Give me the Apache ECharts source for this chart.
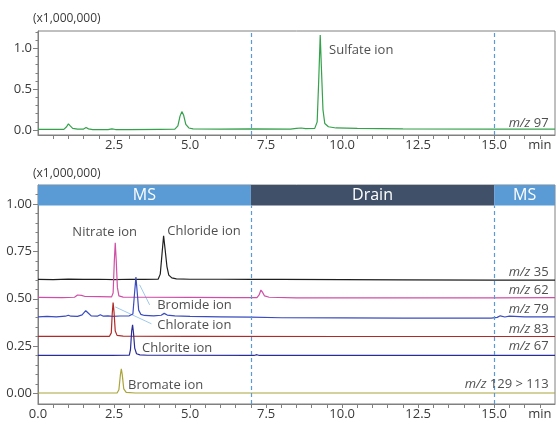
<!DOCTYPE html>
<html><head><meta charset="utf-8">
<script src="https://cdn.jsdelivr.net/npm/echarts@6/dist/echarts.min.js"></script>
<style>html,body{margin:0;padding:0;background:#fff}#c{width:557px;height:421px}</style>
</head><body><div id="c"></div><script>
// ---------- DATA ----------
// time (min), intensity (x1,000,000)
const mz97 = [[0,0.008],[0.85,0.008],[0.94,0.04],[1.0,0.075],[1.06,0.05],[1.14,0.02],[1.3,0.01],[1.5,0.012],[1.58,0.03],[1.66,0.014],[1.8,0.005],[2.3,0.005],[2.43,0.015],[2.55,0.006],[3.0,0.005],[4.0,0.008],[4.5,0.01],[4.6,0.05],[4.67,0.17],[4.73,0.225],[4.79,0.18],[4.86,0.07],[4.96,0.025],[5.1,0.014],[6.0,0.012],[7.0,0.014],[8.3,0.012],[8.5,0.02],[8.65,0.025],[8.8,0.016],[9.1,0.02],[9.18,0.1],[9.23,0.6],[9.28,1.163],[9.32,0.75],[9.37,0.25],[9.43,0.08],[9.55,0.04],[9.8,0.025],[10.5,0.02],[12,0.015],[15,0.012],[17,0.012]];
const mz35 = [[0,0.602],[0.5,0.601],[1.0,0.604],[1.5,0.602],[2.0,0.603],[2.5,0.601],[3.0,0.603],[3.5,0.602],[3.95,0.603],[4.02,0.63],[4.08,0.74],[4.13,0.832],[4.18,0.76],[4.24,0.67],[4.3,0.625],[4.4,0.61],[4.55,0.605],[5,0.603],[6,0.603],[7,0.602],[8,0.602],[10,0.601],[12,0.6],[15,0.598],[17,0.598]];
const mz62 = [[0,0.507],[0.8,0.506],[1.2,0.508],[1.3,0.52],[1.36,0.53],[1.43,0.518],[1.55,0.512],[2.0,0.511],[2.42,0.51],[2.47,0.53],[2.51,0.7],[2.54,0.795],[2.57,0.71],[2.61,0.56],[2.66,0.515],[2.8,0.509],[3.5,0.508],[5,0.507],[6.5,0.506],[7.2,0.506],[7.27,0.52],[7.33,0.546],[7.38,0.535],[7.45,0.515],[7.6,0.508],[8.5,0.505],[10,0.505],[13,0.505],[15,0.505],[17,0.506]];
const mz79 = [[0,0.405],[0.3,0.407],[0.6,0.405],[0.9,0.408],[1.0,0.413],[1.08,0.408],[1.3,0.407],[1.45,0.415],[1.57,0.437],[1.65,0.425],[1.75,0.41],[1.95,0.408],[2.05,0.416],[2.15,0.408],[2.3,0.41],[2.45,0.407],[2.7,0.409],[3.0,0.41],[3.12,0.42],[3.17,0.52],[3.22,0.614],[3.26,0.54],[3.31,0.44],[3.38,0.418],[3.5,0.412],[3.8,0.41],[4.05,0.413],[4.15,0.423],[4.25,0.414],[4.5,0.41],[5,0.407],[6,0.405],[7,0.403],[8,0.4],[10,0.399],[12,0.398],[14.9,0.398],[15.1,0.402],[15.2,0.41],[15.35,0.404],[15.5,0.408],[16,0.405],[17,0.405]];
const mz83 = [[0,0.302],[2.35,0.302],[2.41,0.32],[2.44,0.42],[2.47,0.48],[2.5,0.43],[2.54,0.33],[2.6,0.307],[2.8,0.303],[5,0.302],[10,0.301],[17,0.301]];
const mz67 = [[0,0.201],[2.42,0.201],[2.45,0.206],[2.48,0.201],[3.0,0.202],[3.04,0.23],[3.08,0.33],[3.11,0.363],[3.14,0.32],[3.18,0.24],[3.24,0.21],[3.35,0.204],[3.6,0.202],[7.1,0.201],[7.2,0.205],[7.28,0.201],[10,0.201],[17,0.201]];
const mz129 = [[0,0.003],[2.6,0.003],[2.66,0.02],[2.71,0.1],[2.74,0.13],[2.77,0.1],[2.82,0.025],[2.9,0.006],[3.2,0.003],[17,0.003]];

const traceNames = ['97','35','62','79','83','67','129 > 113'];
const peakNames = ['Sulfate ion','Nitrate ion','Chloride ion','Bromide ion','Chlorate ion','Chlorite ion','Bromate ion'];
const segNames = ['MS','Drain','MS'];
const segBounds = [[0,7],[7,15],[15,17]];
const switchTimes = [7,15];

const xLabelsTop = [2.5,5,7.5,10,12.5,15];
const xLabelsBottom = [0,2.5,5,7.5,10,12.5,15];
const xUnit = 'min';
const xTicks = [0.5,1,1.5,2,2.5,3,3.5,4,4.5,5,5.5,6,6.5,7,7.5,8,8.5,9,9.5,10,10.5,11,11.5,12,12.5,13,13.5,14,14.5,15,15.5,16,16.5];
const yLabelsTop = [0,0.5,1.0];
const yMinorTop = [0.1,0.2,0.3,0.4,0.6,0.7,0.8,0.9,1.1,1.2];
const yLabelsBottom = [0,0.25,0.5,0.75,1.0];
const yMinorBottom = [0.05,0.1,0.15,0.2,0.3,0.35,0.4,0.45,0.55,0.6,0.65,0.7,0.8,0.85,0.9,0.95,1.05];
const scaleText = '(x1,000,000)';

// ---------- LAYOUT / STYLE ----------
const FONT = '"Open Sans", sans-serif';
const AX = '#808080', TXT = '#3a3a3a';
const unitPos = 16.5;
const X = {min:0, max:17};
const topY = {min:-0.061, max:1.212};
const botY = {min:-0.055, max:1.10};
const bandLow = 0.992;
const colors = {'97':'#34a14b','35':'#1e1e1e','62':'#cf4fa6','79':'#3a4cc0','83':'#b02a2a','67':'#2a2d97','129 > 113':'#a9a53a'};
const peakPos = {'Sulfate ion':[9.57,0.979,0],'Nitrate ion':[1.13,0.849,1],'Chloride ion':[4.25,0.858,1],'Bromide ion':[3.92,0.463,1],'Chlorate ion':[3.92,0.358,1],'Chlorite ion':[3.42,0.237,1],'Bromate ion':[2.96,0.042,1]};
const tracePos = {'97':[0.086,0],'35':[0.638,1],'62':[0.544,1],'79':[0.442,1],'83':[0.337,1],'67':[0.247,1],'129 > 113':[0.047,1]};
const leaders = [[[3.34,0.574],[3.67,0.468]],[[2.54,0.457],[3.73,0.368]]];
const segColors = ['#5b9bd5','#3f5068','#5b9bd5'];
const traceData = {'97':mz97,'35':mz35,'62':mz62,'79':mz79,'83':mz83,'67':mz67,'129 > 113':mz129};

const grids = [
  {left:38, right:2, top:31, height:104, show:true, borderColor:AX, borderWidth:1},
  {left:38, right:2, top:185, bottom:16.5, show:true, borderColor:AX, borderWidth:1}
];
function xAxis(gi, labels){
  return {type:'value', gridIndex:gi, min:X.min, max:X.max, splitLine:{show:false},
    axisLine:{show:true, onZero:false, lineStyle:{color:AX}},
    axisTick:{show:true, customValues:xTicks, length:4, inside:false, lineStyle:{color:AX}},
    axisLabel:{show:true, customValues:labels.concat([unitPos]), margin:4, color:TXT, fontSize:13, fontFamily:FONT,
      formatter:v=> Math.abs(v-unitPos)<1e-6 ? xUnit : v.toFixed(1)}};
}
function yMain(gi, r, labels, dec){
  return {type:'value', gridIndex:gi, min:r.min, max:r.max, splitLine:{show:false},
    axisLine:{show:true, onZero:false, lineStyle:{color:AX}},
    axisTick:{show:true, customValues:labels, length:5, lineStyle:{color:AX}},
    axisLabel:{show:true, customValues:labels, margin:6, color:TXT, fontSize:13, fontFamily:FONT, formatter:v=>v.toFixed(dec)}};
}
function yMinor(gi, r, ticks){
  return {type:'value', gridIndex:gi, min:r.min, max:r.max, position:'left', splitLine:{show:false},
    axisLine:{show:false}, axisLabel:{show:false},
    axisTick:{show:true, customValues:ticks, length:2.5, lineStyle:{color:AX}}};
}

const series = [];
traceNames.forEach(n=>{
  const g = tracePos[n][1];
  const s = {type:'line', name:n, xAxisIndex:g, yAxisIndex:g?2:0, data:traceData[n], symbol:'none',
    lineStyle:{color:colors[n], width:1.2}, silent:true, z:3};
  series.push(s);
});
// dashed switch lines
series[0].markLine = {silent:true, symbol:'none', label:{show:false},
  lineStyle:{color:'#5b9bd5', type:[4,3], width:1.2},
  data: switchTimes.map(t=>({xAxis:t}))};
series[6].markLine = {silent:true, symbol:'none', label:{show:false},
  lineStyle:{color:'#5b9bd5', type:[4,3], width:1.2},
  data: switchTimes.map(t=>[{coord:[t,botY.min]},{coord:[t,bandLow]}])};
// band
series[1].markArea = {silent:true,
  data: segNames.map((nm,i)=>[{name:nm, xAxis:segBounds[i][0], yAxis:bandLow, itemStyle:{color:segColors[i], opacity:1},
     label:{show:true, position:'inside', color:'#fff', fontSize:16, fontFamily:FONT}}, {xAxis:segBounds[i][1], yAxis:botY.max}])};
// leader lines
leaders.forEach(seg=>{
  series.push({type:'line', xAxisIndex:1, yAxisIndex:2, data:seg, symbol:'none', silent:true,
    lineStyle:{color:'#9ec9ee', width:1}, z:2});
});
// peak annotations
[0,1].forEach(g=>{
  series.push({type:'scatter', xAxisIndex:g, yAxisIndex:g?2:0, symbolSize:0, silent:true, z:5,
    data: peakNames.filter(p=>peakPos[p][2]===g).map(p=>({name:p, value:[peakPos[p][0],peakPos[p][1]]})),
    label:{show:true, position:'right', distance:0, formatter:'{b}', color:'#222', fontSize:13, fontFamily:FONT}});
  series.push({type:'scatter', xAxisIndex:g, yAxisIndex:g?2:0, symbolSize:0, silent:true, z:5,
    data: traceNames.filter(n=>tracePos[n][1]===g).map(n=>({name:n, value:[16.79,tracePos[n][0]]})),
    label:{show:true, position:'left', distance:0, formatter:'{i|m/z} {b}', color:'#222', fontSize:13, fontFamily:FONT,
      rich:{i:{fontStyle:'italic', color:'#222', fontSize:13, fontFamily:FONT}}}});
});

const chart = echarts.init(document.getElementById('c'), null, {renderer:'canvas'});
chart.setOption({
  animation:false,
  grid:grids,
  xAxis:[xAxis(0,xLabelsTop), xAxis(1,xLabelsBottom)],
  yAxis:[yMain(0,topY,yLabelsTop,1), yMinor(0,topY,yMinorTop), yMain(1,botY,yLabelsBottom,2), yMinor(1,botY,yMinorBottom)],
  graphic:[
    {type:'text', left:33, top:13, style:{text:scaleText, fill:TXT, font:'12px '+FONT}},
    {type:'text', left:33, top:168, style:{text:scaleText, fill:TXT, font:'12px '+FONT}}
  ],
  series:series
});
</script></body></html>
